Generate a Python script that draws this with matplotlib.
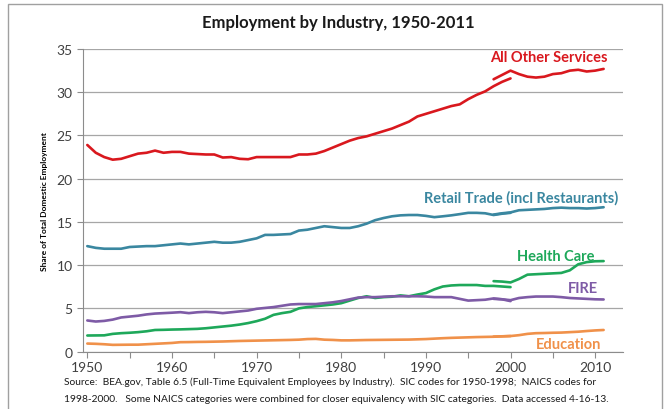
import matplotlib
matplotlib.use("Agg")
import matplotlib.pyplot as plt
from matplotlib.patches import Rectangle

plt.rcParams['font.family'] = ['Lato', 'DejaVu Sans']

# SIC series 1950-2000, NAICS series 1998-2011
sic_years = list(range(1950, 2001))
naics_years = list(range(1998, 2012))

other_sic = [23.9, 23.0, 22.5, 22.2, 22.3, 22.6, 22.9, 23.0, 23.25, 23.0,
             23.1, 23.1, 22.9, 22.85, 22.8, 22.8, 22.45, 22.5, 22.3, 22.25,
             22.5, 22.5, 22.5, 22.5, 22.5, 22.8, 22.8, 22.9, 23.2, 23.6,
             24.0, 24.4, 24.7, 24.9, 25.2, 25.5, 25.8, 26.2, 26.6, 27.2,
             27.5, 27.8, 28.1, 28.4, 28.6, 29.2, 29.7, 30.1, 30.7, 31.2, 31.6]
other_naics = [31.5, 32.0, 32.5, 32.1, 31.8, 31.7, 31.8, 32.1, 32.2, 32.5,
               32.6, 32.4, 32.5, 32.7]

retail_sic = [12.2, 12.0, 11.9, 11.9, 11.9, 12.1, 12.15, 12.2, 12.2, 12.3,
              12.4, 12.5, 12.4, 12.5, 12.6, 12.7, 12.6, 12.6, 12.7, 12.9,
              13.1, 13.5, 13.5, 13.55, 13.6, 14.0, 14.1, 14.3, 14.5, 14.4,
              14.3, 14.3, 14.5, 14.8, 15.2, 15.45, 15.65, 15.76, 15.8, 15.8,
              15.7, 15.55, 15.65, 15.76, 15.9, 16.05, 16.05, 16.0, 15.8, 15.95, 16.05]
retail_naics = [15.85, 16.0, 16.1, 16.35, 16.4, 16.45, 16.5, 16.6, 16.65, 16.6,
                16.6, 16.55, 16.6, 16.7]

health_sic = [1.86, 1.87, 1.88, 2.05, 2.13, 2.18, 2.25, 2.35, 2.5, 2.52,
              2.55, 2.57, 2.6, 2.63, 2.7, 2.8, 2.9, 3.0, 3.13, 3.3,
              3.52, 3.8, 4.25, 4.45, 4.6, 5.0, 5.15, 5.25, 5.35, 5.45,
              5.6, 5.9, 6.2, 6.4, 6.2, 6.3, 6.35, 6.5, 6.4, 6.6,
              6.77, 7.2, 7.53, 7.65, 7.7, 7.7, 7.7, 7.6, 7.6, 7.53, 7.46]
health_naics = [8.15, 8.1, 8.0, 8.4, 8.9, 8.95, 9.0, 9.05, 9.1, 9.4,
                10.1, 10.35, 10.45, 10.47]

fire_sic = [3.6, 3.48, 3.55, 3.7, 3.95, 4.05, 4.15, 4.3, 4.4, 4.45,
            4.5, 4.56, 4.45, 4.55, 4.6, 4.55, 4.45, 4.55, 4.65, 4.75,
            4.95, 5.05, 5.15, 5.3, 5.45, 5.5, 5.5, 5.5, 5.6, 5.7,
            5.85, 6.05, 6.25, 6.3, 6.3, 6.35, 6.4, 6.4, 6.4, 6.4,
            6.37, 6.3, 6.3, 6.3, 6.1, 5.9, 5.95, 6.0, 6.15, 6.05, 5.84]
fire_naics = [6.1, 6.05, 5.95, 6.2, 6.3, 6.37, 6.37, 6.37, 6.3, 6.2,
              6.15, 6.1, 6.05, 6.03]

edu_sic = [0.93, 0.9, 0.85, 0.78, 0.79, 0.8, 0.8, 0.85, 0.9, 0.95,
           1.0, 1.09, 1.1, 1.12, 1.13, 1.15, 1.17, 1.2, 1.23, 1.25,
           1.27, 1.29, 1.31, 1.33, 1.35, 1.38, 1.45, 1.47, 1.38, 1.35,
           1.3, 1.3, 1.32, 1.34, 1.35, 1.36, 1.37, 1.38, 1.39, 1.42,
           1.45, 1.5, 1.55, 1.59, 1.62, 1.65, 1.68, 1.7, 1.72, 1.76, 1.8]
edu_naics = [1.74, 1.77, 1.8, 1.9, 2.05, 2.13, 2.15, 2.18, 2.2, 2.25,
             2.3, 2.38, 2.45, 2.5]

series = [
    ("All Other Services", other_sic, other_naics, "#D9181E"),
    ("Retail Trade (incl Restaurants)", retail_sic, retail_naics, "#3A87A0"),
    ("Health Care", health_sic, health_naics, "#1EA85A"),
    ("FIRE", fire_sic, fire_naics, "#7E5BA6"),
    ("Education", edu_sic, edu_naics, "#F0914A"),
]

# label positions (year, value) for the inline series names
label_pos = {
    "All Other Services": (2004.5, 34.1),
    "Retail Trade (incl Restaurants)": (2001.3, 17.9),
    "Health Care": (2005.3, 11.1),
    "FIRE": (2008.6, 7.4),
    "Education": (2006.8, 0.9),
}

fig = plt.figure(figsize=(6.7, 4.1), dpi=100)
ax = fig.add_axes([0.124, 0.14, 0.806, 0.738])

grey = "#8C8C8C"
for name, sic, naics, color in series:
    ax.plot(sic_years, sic, color=color, lw=1.9, solid_capstyle="round")
    ax.plot(naics_years, naics, color=color, lw=1.9, solid_capstyle="round")
    lx, ly = label_pos[name]
    ax.text(lx, ly, name, color=color, fontsize=10.5, fontweight="bold",
            ha="center", va="center")

ax.set_xlim(1949.5, 2013.3)
ax.set_ylim(0, 35)
ax.set_yticks(range(0, 36, 5))
ax.set_xticks(range(1950, 2011, 5))
ax.set_xticklabels([str(y) if y % 10 == 0 else "" for y in range(1950, 2011, 5)])
ax.grid(axis="y", color="#A6A6A6", lw=0.9)
ax.set_axisbelow(True)
for s in ("top", "right"):
    ax.spines[s].set_visible(False)
for s in ("left", "bottom"):
    ax.spines[s].set_color(grey)
ax.tick_params(axis="both", colors=grey, labelcolor="#404040", labelsize=10,
               length=4, direction="out")
ax.tick_params(axis="x", pad=3)
ax.set_ylabel("Share of Total Domestic Employment", fontsize=6,
              fontweight="bold", color="black", labelpad=6)

fig.text(0.505, 0.945, "Employment by Industry, 1950-2011", ha="center",
         va="center", fontsize=12, fontweight="bold", color="#1A1A1A")
fig.text(0.096, 0.06,
         "Source:  BEA.gov, Table 6.5 (Full-Time Equivalent Employees by Industry).  "
         "SIC codes for 1950-1998;  NAICS codes for", fontsize=7.4, color="#1A1A1A")
fig.text(0.096, 0.02,
         "1998-2000.   Some NAICS categories were combined for closer equivalency "
         "with SIC categories.  Data accessed 4-16-13.", fontsize=7.4, color="#1A1A1A")

fig.patches.append(Rectangle((0.012, -0.01), 0.976, 0.998, transform=fig.transFigure,
                             fill=False, edgecolor="#A0A0A0", lw=1.0))

fig.savefig("out.png", dpi=100)
